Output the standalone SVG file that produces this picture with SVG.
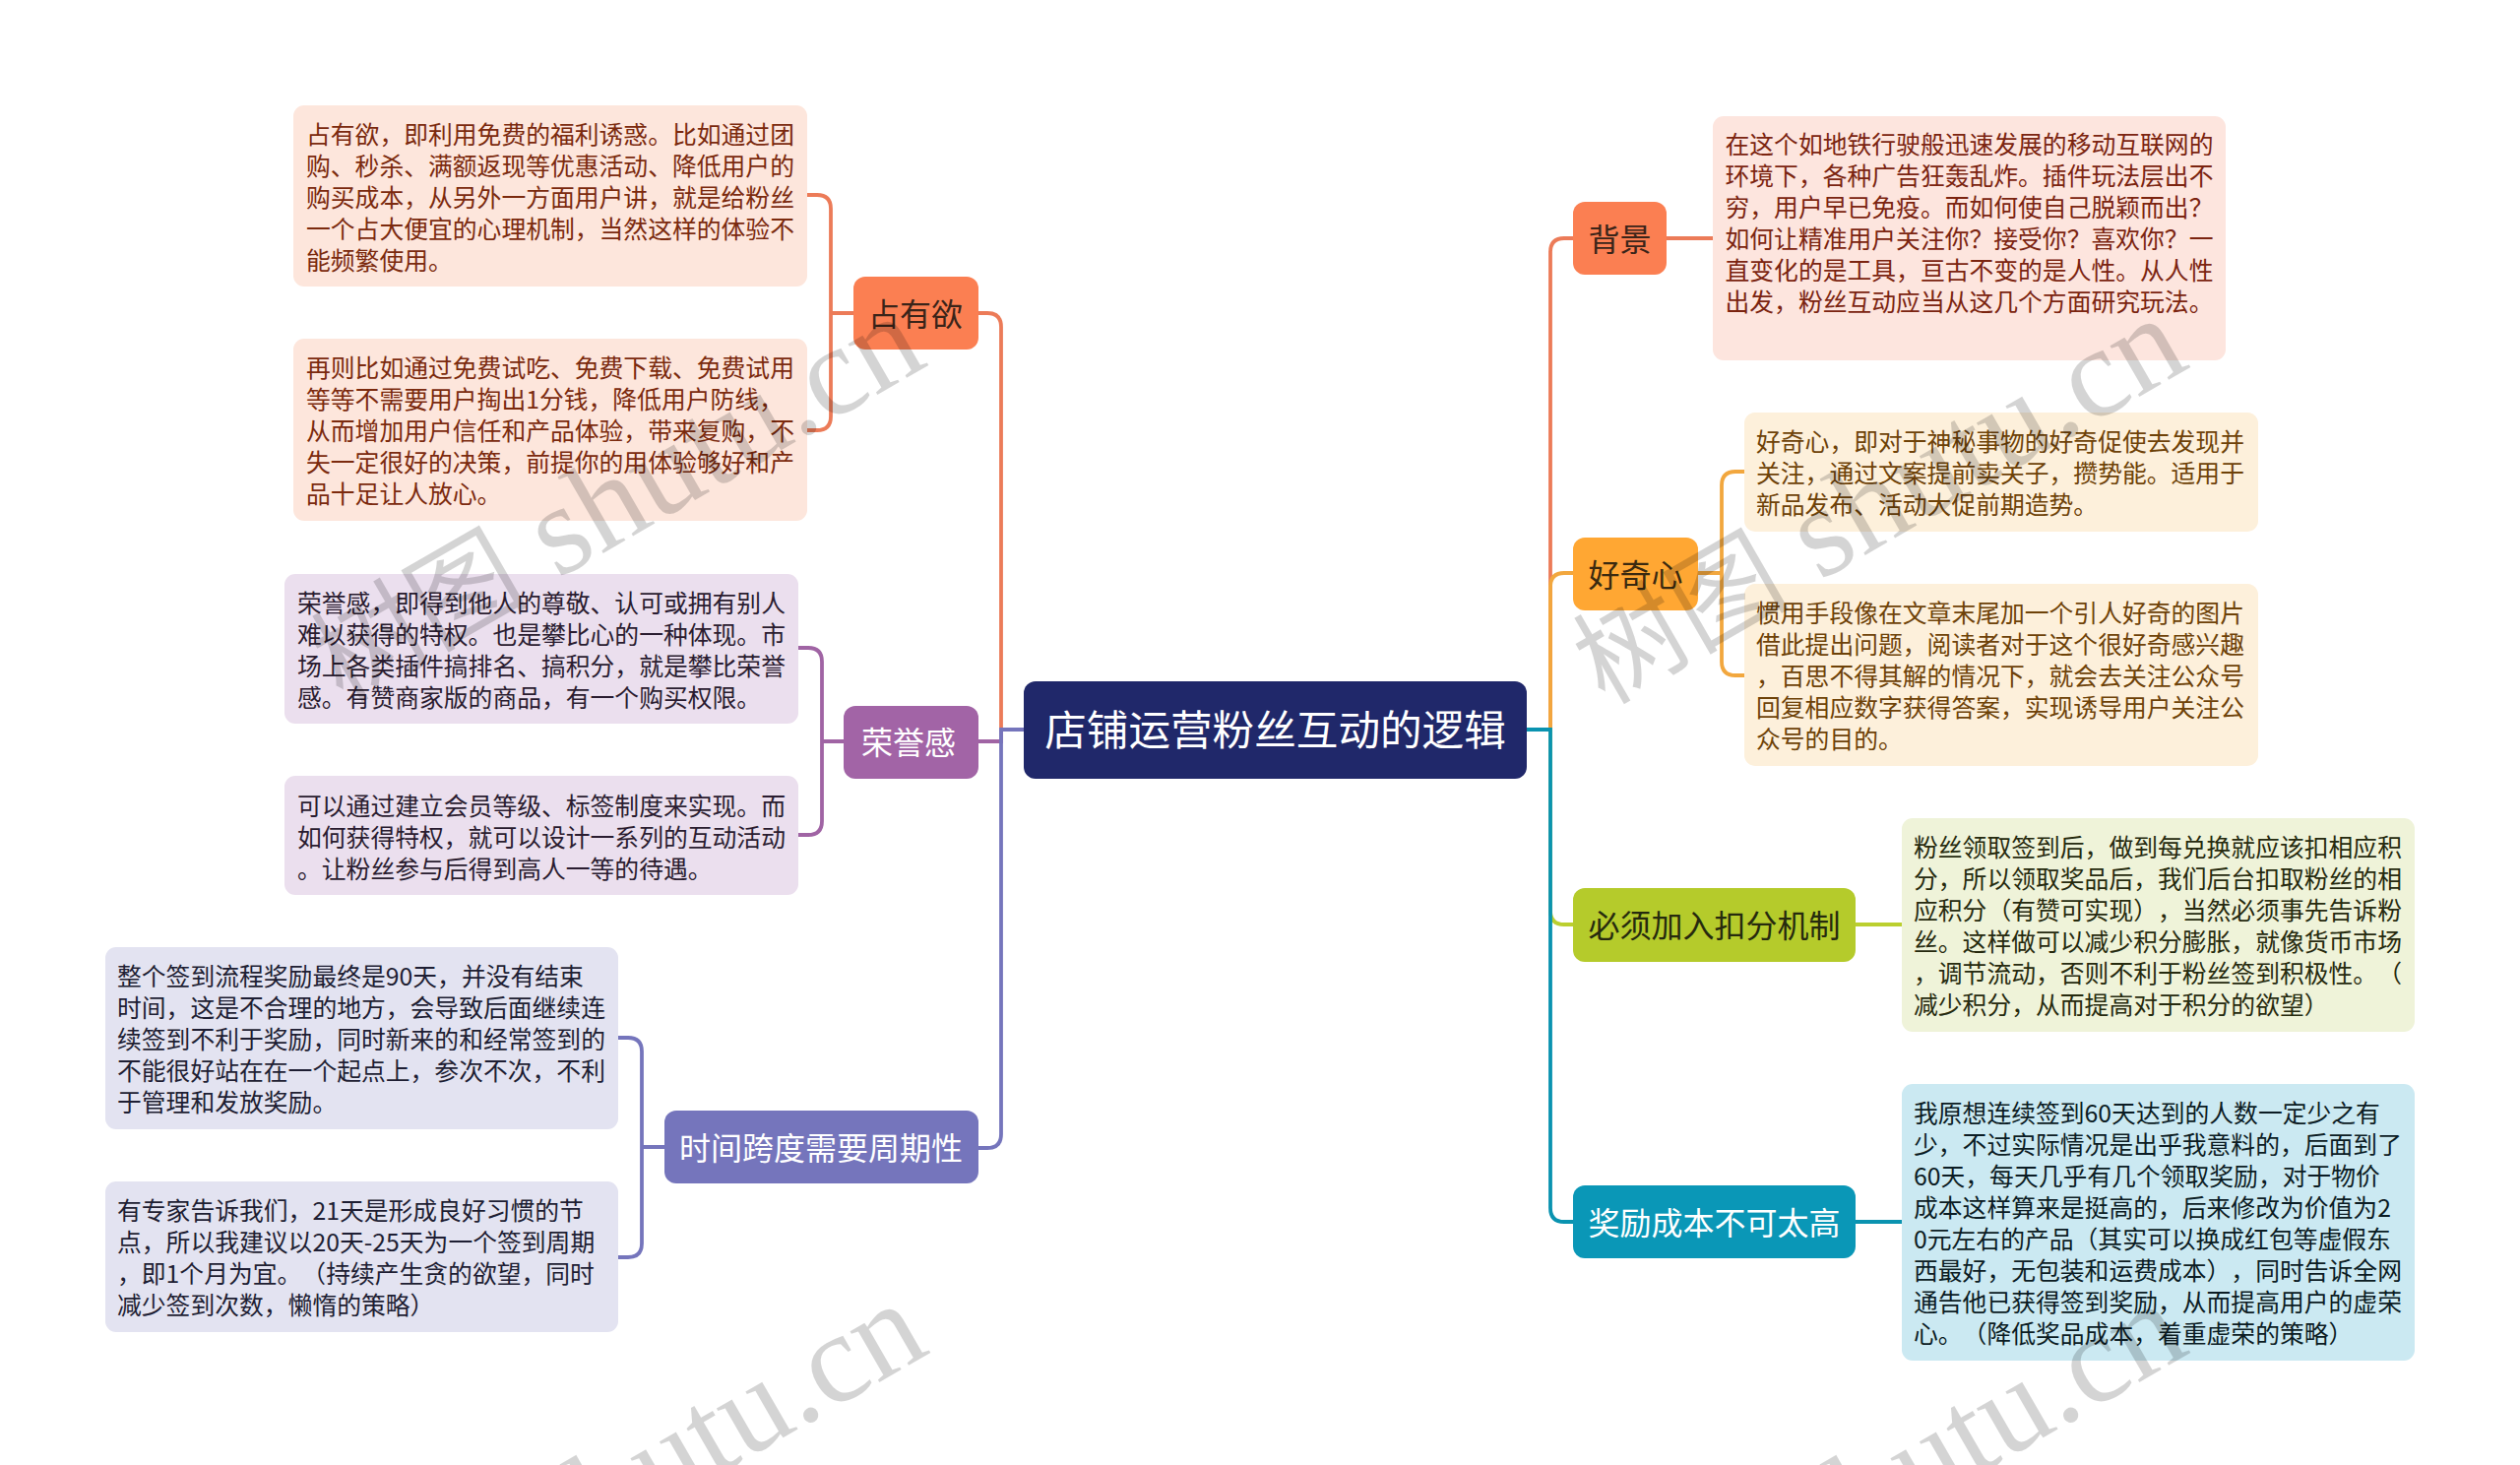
<svg xmlns="http://www.w3.org/2000/svg" width="2560" height="1488" viewBox="0 0 2560 1488">
<style>
text{font-family:"Noto Sans CJK SC","Noto Sans",sans-serif;text-spacing-trim:space-all}
.t{font-size:24.8px}
.n{font-size:32px;text-anchor:middle}
.r{font-size:42.6px;text-anchor:middle;fill:#fff}
.c{fill:none;stroke-width:3.8}
.w{fill:#000;fill-opacity:.17;font-size:130px;font-family:"Liberation Serif","Noto Sans CJK SC",serif;text-anchor:end}
.wc{font-size:110px;font-family:"Noto Sans CJK SC",sans-serif}
.o{stroke:#EC7B58}.y{stroke:#F2A73E}.g{stroke:#BBCF2F}.b{stroke:#0A93B0}.p{stroke:#A064A4}.v{stroke:#7575BC}
</style>
<rect width="2560" height="1488" fill="#fff"/>
<g id="connectors">
<path class="c o" d="M1041 741H1017V332Q1017 318 1003 318H993"/>
<path class="c p" d="M1017 741V753H993"/>
<path class="c v" d="M1041 741H1017V1152Q1017 1166 1003 1166H994"/>
<path class="c o" d="M867 318H844M820 198H830Q844 198 844 212V423Q844 437 830 437H820"/>
<path class="c p" d="M858 753H835M811 658H821Q835 658 835 672V834Q835 848 821 848H811"/>
<path class="c v" d="M676 1165H652M628 1054H638Q652 1054 652 1068V1263Q652 1277 638 1277H628"/>
<path class="c o" d="M1551 741H1575V256Q1575 242 1589 242H1598"/>
<path class="c y" d="M1551 741H1575V596Q1575 582 1589 582H1598"/>
<path class="c g" d="M1551 741H1575V925Q1575 939 1589 939H1598"/>
<path class="c b" d="M1551 741H1575V1227Q1575 1241 1589 1241H1598"/>
<path class="c o" d="M1693 242H1740"/>
<path class="c y" d="M1725 582H1749M1772 479H1763Q1749 479 1749 493V672Q1749 686 1763 686H1772"/>
<path class="c g" d="M1885 939H1932"/>
<path class="c b" d="M1885 1241H1932"/>
</g>
<g id="root"><rect x="1040" y="692" width="511" height="99" rx="12" fill="#20286A"/><text class="r" x="1295.5" y="757">店铺运营粉丝互动的逻辑</text></g>
<g id="n1"><rect x="867" y="281" width="127" height="74" rx="12" fill="#FB7F52"/><text class="n" x="930" y="330.5" fill="#3A2419">占有欲</text></g>
<g id="n1a"><rect x="298" y="107" width="522" height="184" rx="11" fill="#FDE6DC"/><text class="t" y="145.5" fill="#7B2A0E"><tspan x="311">占有欲，即利用免费的福利诱惑。比如通过团</tspan><tspan x="311" dy="32">购、秒杀、满额返现等优惠活动、降低用户的</tspan><tspan x="311" dy="32">购买成本，从另外一方面用户讲，就是给粉丝</tspan><tspan x="311" dy="32">一个占大便宜的心理机制，当然这样的体验不</tspan><tspan x="311" dy="32">能频繁使用。</tspan></text></g>
<g id="n1b"><rect x="298" y="344" width="522" height="185" rx="11" fill="#FDE6DC"/><text class="t" y="382.5" fill="#7B2A0E"><tspan x="311">再则比如通过免费试吃、免费下载、免费试用</tspan><tspan x="311" dy="32">等等不需要用户掏出1分钱，降低用户防线，</tspan><tspan x="311" dy="32">从而增加用户信任和产品体验，带来复购，不</tspan><tspan x="311" dy="32">失一定很好的决策，前提你的用体验够好和产</tspan><tspan x="311" dy="32">品十足让人放心。</tspan></text></g>
<g id="n2"><rect x="857" y="717" width="137" height="74" rx="12" fill="#A264A6"/><text class="n" x="923" y="765.5" fill="#fff">荣誉感</text></g>
<g id="n2a"><rect x="289" y="583" width="522" height="152" rx="11" fill="#EBDFEE"/><text class="t" y="622" fill="#2A1C30"><tspan x="302">荣誉感，即得到他人的尊敬、认可或拥有别人</tspan><tspan x="302" dy="32">难以获得的特权。也是攀比心的一种体现。市</tspan><tspan x="302" dy="32">场上各类插件搞排名、搞积分，就是攀比荣誉</tspan><tspan x="302" dy="32">感。有赞商家版的商品，有一个购买权限。</tspan></text></g>
<g id="n2b"><rect x="289" y="788" width="522" height="121" rx="11" fill="#EBDFEE"/><text class="t" y="828" fill="#2A1C30"><tspan x="302">可以通过建立会员等级、标签制度来实现。而</tspan><tspan x="302" dy="32">如何获得特权，就可以设计一系列的互动活动</tspan><tspan x="302" dy="32">。让粉丝参与后得到高人一等的待遇。</tspan></text></g>
<g id="n3"><rect x="675" y="1128" width="319" height="74" rx="12" fill="#7575BC"/><text class="n" x="834" y="1177.5" fill="#fff">时间跨度需要周期性</text></g>
<g id="n3a"><rect x="107" y="962" width="521" height="185" rx="11" fill="#E3E3F1"/><text class="t" y="1001" fill="#1E1E33"><tspan x="119">整个签到流程奖励最终是90天，并没有结束</tspan><tspan x="119" dy="32">时间，这是不合理的地方，会导致后面继续连</tspan><tspan x="119" dy="32">续签到不利于奖励，同时新来的和经常签到的</tspan><tspan x="119" dy="32">不能很好站在在一个起点上，参次不次，不利</tspan><tspan x="119" dy="32">于管理和发放奖励。</tspan></text></g>
<g id="n3b"><rect x="107" y="1200" width="521" height="153" rx="11" fill="#E3E3F1"/><text class="t" y="1239" fill="#1E1E33"><tspan x="119">有专家告诉我们，21天是形成良好习惯的节</tspan><tspan x="119" dy="32">点，所以我建议以20天-25天为一个签到周期</tspan><tspan x="119" dy="32">，即1个月为宜。（持续产生贪的欲望，同时</tspan><tspan x="119" dy="32">减少签到次数，懒惰的策略）</tspan></text></g>
<g id="n4"><rect x="1598" y="205" width="95" height="74" rx="12" fill="#FB7F52"/><text class="n" x="1645.5" y="254.5" fill="#3A2419">背景</text></g>
<g id="n4a"><rect x="1740" y="118" width="521" height="248" rx="11" fill="#FDE5DE"/><text class="t" y="156" fill="#7B2410"><tspan x="1752.5">在这个如地铁行驶般迅速发展的移动互联网的</tspan><tspan x="1752.5" dy="32">环境下，各种广告狂轰乱炸。插件玩法层出不</tspan><tspan x="1752.5" dy="32">穷，用户早已免疫。而如何使自己脱颖而出？</tspan><tspan x="1752.5" dy="32">如何让精准用户关注你？接受你？喜欢你？一</tspan><tspan x="1752.5" dy="32">直变化的是工具，亘古不变的是人性。从人性</tspan><tspan x="1752.5" dy="32">出发，粉丝互动应当从这几个方面研究玩法。</tspan></text></g>
<g id="n5"><rect x="1598" y="546" width="127" height="74" rx="12" fill="#FFA733"/><text class="n" x="1661.5" y="595.5" fill="#3A2A10">好奇心</text></g>
<g id="n5a"><rect x="1772" y="419" width="522" height="121" rx="11" fill="#FDF0DB"/><text class="t" y="458" fill="#6E4208"><tspan x="1784">好奇心，即对于神秘事物的好奇促使去发现并</tspan><tspan x="1784" dy="32">关注，通过文案提前卖关子，攒势能。适用于</tspan><tspan x="1784" dy="32">新品发布、活动大促前期造势。</tspan></text></g>
<g id="n5b"><rect x="1772" y="593" width="522" height="185" rx="11" fill="#FDF0DB"/><text class="t" y="632" fill="#6E4208"><tspan x="1784">惯用手段像在文章末尾加一个引人好奇的图片</tspan><tspan x="1784" dy="32">借此提出问题，阅读者对于这个很好奇感兴趣</tspan><tspan x="1784" dy="32">，百思不得其解的情况下，就会去关注公众号</tspan><tspan x="1784" dy="32">回复相应数字获得答案，实现诱导用户关注公</tspan><tspan x="1784" dy="32">众号的目的。</tspan></text></g>
<g id="n6"><rect x="1598" y="902" width="287" height="75" rx="12" fill="#B5CB2B"/><text class="n" x="1741.5" y="951.5" fill="#262A0E">必须加入扣分机制</text></g>
<g id="n6a"><rect x="1932" y="831" width="521" height="217" rx="11" fill="#EFF3D9"/><text class="t" y="870" fill="#262A0E"><tspan x="1944">粉丝领取签到后，做到每兑换就应该扣相应积</tspan><tspan x="1944" dy="32">分，所以领取奖品后，我们后台扣取粉丝的相</tspan><tspan x="1944" dy="32">应积分（有赞可实现），当然必须事先告诉粉</tspan><tspan x="1944" dy="32">丝。这样做可以减少积分膨胀，就像货币市场</tspan><tspan x="1944" dy="32">，调节流动，否则不利于粉丝签到积极性。（</tspan><tspan x="1944" dy="32">减少积分，从而提高对于积分的欲望）</tspan></text></g>
<g id="n7"><rect x="1598" y="1204" width="287" height="74" rx="12" fill="#0A97B7"/><text class="n" x="1741.5" y="1253.5" fill="#fff">奖励成本不可太高</text></g>
<g id="n7a"><rect x="1932" y="1101" width="521" height="281" rx="11" fill="#CBE9F2"/><text class="t" y="1140" fill="#0B1C24"><tspan x="1944">我原想连续签到60天达到的人数一定少之有</tspan><tspan x="1944" dy="32">少，不过实际情况是出乎我意料的，后面到了</tspan><tspan x="1944" dy="32">60天，每天几乎有几个领取奖励，对于物价</tspan><tspan x="1944" dy="32">成本这样算来是挺高的，后来修改为价值为2</tspan><tspan x="1944" dy="32">0元左右的产品（其实可以换成红包等虚假东</tspan><tspan x="1944" dy="32">西最好，无包装和运费成本），同时告诉全网</tspan><tspan x="1944" dy="32">通告他已获得签到奖励，从而提高用户的虚荣</tspan><tspan x="1944" dy="32">心。（降低奖品成本，着重虚荣的策略）</tspan></text></g>
<g id="watermark">
<text class="w" transform="translate(945 370) rotate(-30)"><tspan class="wc">树图</tspan> shutu.cn</text>
<text class="w" transform="translate(2227 372) rotate(-30)"><tspan class="wc">树图</tspan> shutu.cn</text>
<text class="w" transform="translate(947 1373) rotate(-30)"><tspan class="wc">树图</tspan> shutu.cn</text>
<text class="w" transform="translate(2227 1373) rotate(-30)"><tspan class="wc">树图</tspan> shutu.cn</text>
</g>
</svg>
